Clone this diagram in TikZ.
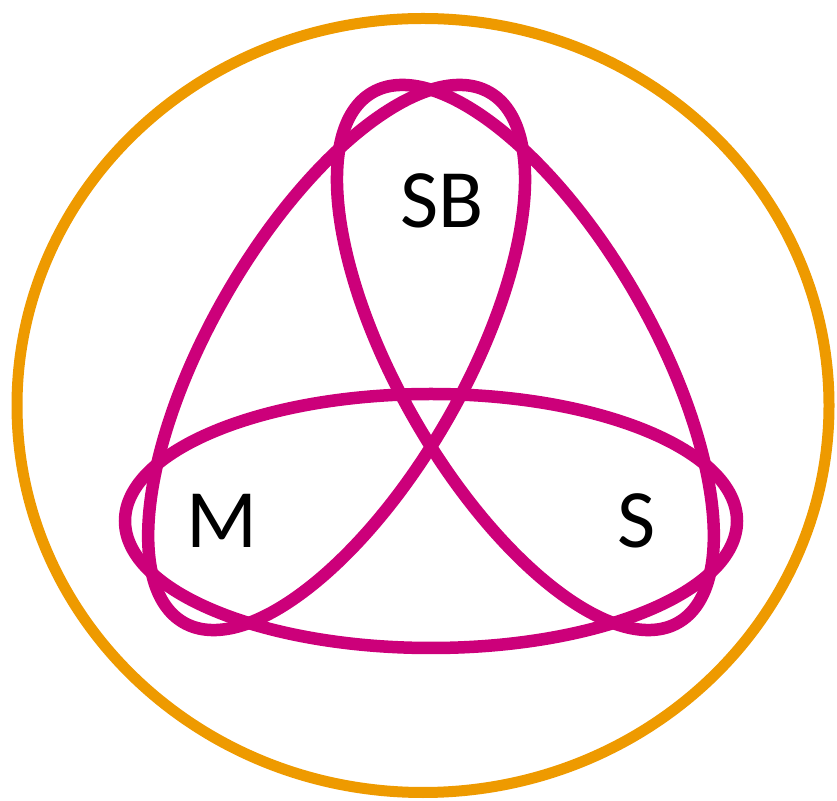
\documentclass[tikz,border=0pt]{standalone}
\usepackage{fontspec}
\setmainfont{Carlito}
\definecolor{loopmag}{RGB}{204,0,122}
\definecolor{ringorange}{RGB}{238,154,0}
\tikzset{
  loopline/.style={draw=loopmag, line width=12.5pt},
  ringline/.style={draw=ringorange, line width=11pt},
  setlabel/.style={inner sep=0pt, font=\fontsize{83}{100}\selectfont}
}
\begin{document}
\begin{tikzpicture}[x=1pt,y=1pt]
\useasboundingbox (0,0) rectangle (837,800);
\coordinate (C) at (431,388);
\draw[ringline] (423,394.5) ellipse [x radius=406, y radius=387];
\foreach \ang in {0,120,240}
  \draw[loopline, rotate around={\ang:(C)}] (431,279) ellipse [x radius=306, y radius=127];
\node[setlabel] (sb) at (442,599) {SB};
\node[setlabel] (m) at (222,279) {M};
\node[setlabel] (s) at (637,279) {S};
\end{tikzpicture}
\end{document}
